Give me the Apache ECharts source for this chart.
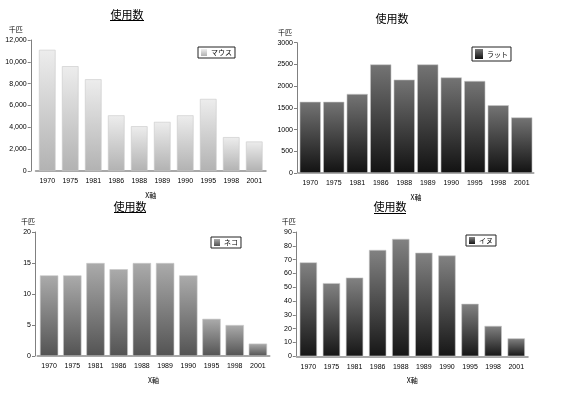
<!DOCTYPE html>
<html><head><meta charset="utf-8">
<script src="https://cdn.jsdelivr.net/npm/echarts@6/dist/echarts.min.js"></script>
<style>html,body{margin:0;padding:0;background:#fff}#c{width:567px;height:394px}</style>
</head><body><div id="c"></div>
<script>
const categories = ['1970','1975','1981','1986','1988','1989','1990','1995','1998','2001'];
const mouse = [11100, 9600, 8400, 5100, 4100, 4500, 5100, 6600, 3100, 2700];
const rat = [1640, 1640, 1820, 2500, 2150, 2500, 2200, 2120, 1560, 1280];
const cat = [13, 13, 15, 14, 15, 15, 13, 6, 5, 2];
const dog = [68, 53, 57, 77, 85, 75, 73, 38, 22, 13];
const seriesNames = ['マウス', 'ラット', 'ネコ', 'イヌ'];
const titleText = '使用数';
const yName = '千匹';
const xName = 'X軸';

const NUM = "'Liberation Sans Narrow','Liberation Sans',Arial,sans-serif";
const CJK = "'Noto Sans CJK JP',sans-serif";

function grad(top, bottom){
  return new echarts.graphic.LinearGradient(0,0,0,1,[{offset:0,color:top},{offset:1,color:bottom}]);
}
const panels = [
  {data: mouse, name: seriesNames[0], grid:{left:35.75,width:230,top:40,height:131}, off:5, max:12000, interval:2000, gap:'28%',
   col:grad('#ededed','#b2b2b2'), fmt:v=>v.toLocaleString('en-US'), title:{x:127,y:9}, namePad:8,
   legend:{left:198,top:47}, icon:[6,7]},
  {data: rat, name: seriesNames[1], grid:{left:298.5,width:235,top:42.7,height:130.3}, off:1.5, max:3000, interval:500, gap:'10%',
   col:grad('#747474','#121212'), fmt:v=>String(v), title:{x:392,y:13}, namePad:5,
   legend:{left:472,top:47}, icon:[8,10]},
  {data: cat, name: seriesNames[2], grid:{left:37.5,width:232,top:232,height:124}, off:2.5, max:20, interval:5, gap:'21%',
   col:grad('#ababab','#535353'), fmt:v=>String(v), title:{x:130,y:201}, namePad:0,
   legend:{left:211,top:237}, icon:[6,7]},
  {data: dog, name: seriesNames[3], grid:{left:296.8,width:231,top:232,height:124.3}, off:1, max:90, interval:10, gap:'25%',
   col:grad('#828282','#161616'), fmt:v=>String(v), title:{x:390,y:201}, namePad:0,
   legend:{left:466,top:235}, icon:[6,7]}
];

const option = {
  animation:false,
  title: panels.map(p=>({text:titleText, left:p.title.x, top:p.title.y, textAlign:'center', padding:0,
    textStyle:{fontFamily:CJK, fontSize:11, fontWeight:'normal', color:'#000'}})),
  legend: panels.map(p=>({data:[p.name], left:p.legend.left, top:p.legend.top, orient:'vertical',
    borderColor:'#222', borderWidth:1, padding:[2,3,2,3], itemWidth:p.icon[0], itemHeight:p.icon[1], itemGap:0, icon:'rect',
    itemStyle:{borderWidth:0},
    textStyle:{fontFamily:CJK, fontSize:7, color:'#000', padding:[0,0,0,-1]}})),
  grid: panels.map(p=>Object.assign({containLabel:false}, p.grid)),
  xAxis: panels.map((p,i)=>({type:'category', gridIndex:i, data:categories,
    axisLine:{lineStyle:{color:'#a8a8a8', width:2}}, axisTick:{show:false},
    axisLabel:{fontFamily:NUM, fontSize:7, color:'#000', margin:7, interval:0},
    name:xName, nameLocation:'middle', nameGap:21,
    nameTextStyle:{fontFamily:CJK, fontSize:7, color:'#000'}})),
  yAxis: panels.map((p,i)=>({type:'value', gridIndex:i, min:0, max:p.max, interval:p.interval, offset:p.off,
    splitLine:{show:false},
    axisLine:{show:true, lineStyle:{color:'#808080', width:1}},
    axisTick:{show:true, length:3, lineStyle:{color:'#808080'}},
    axisLabel:{fontFamily:NUM, fontSize:7, color:'#000', margin:4, formatter:p.fmt},
    name:yName, nameLocation:'end', nameGap:7,
    nameTextStyle:{fontFamily:CJK, fontSize:7, color:'#000', align:'right', padding:[0,p.namePad,0,0]}})),
  series: panels.map((p,i)=>({type:'bar', name:p.name, xAxisIndex:i, yAxisIndex:i, data:p.data,
    barCategoryGap:p.gap, itemStyle:{color:p.col, borderColor:'#c8c8c8', borderWidth:0.6}})),
  graphic: [
    {type:'line', shape:{x1:110,y1:20.5,x2:144,y2:20.5}, style:{stroke:'#000', lineWidth:1}},
    {type:'line', shape:{x1:114,y1:212.5,x2:146,y2:212.5}, style:{stroke:'#000', lineWidth:1}},
    {type:'line', shape:{x1:374,y1:213.5,x2:406,y2:213.5}, style:{stroke:'#000', lineWidth:1}}
  ]
};
const chart = echarts.init(document.getElementById('c'), null, {renderer:'canvas'});
chart.setOption(option);
</script></body></html>
